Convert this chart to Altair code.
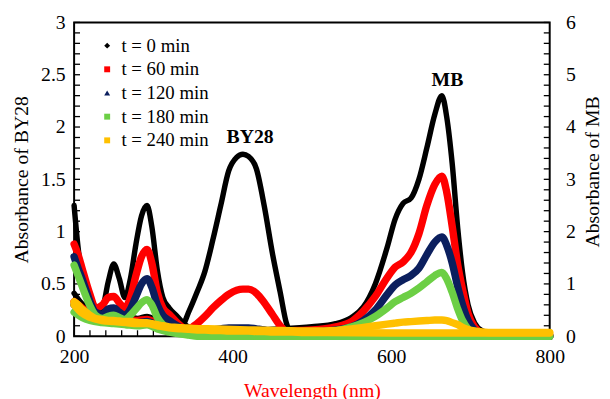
import altair as alt
import pandas as pd

labels = ["t = 0 min", "t = 60 min", "t = 120 min", "t = 180 min", "t = 240 min"]
colors = ["#000000", "#FF0000", "#0B1F5E", "#6CCF45", "#FFC000"]
shapes = ["diamond", "square", "triangle-up", "square", "square"]
widths = [5.5, 7.5, 7.5, 7.5, 7.5]

# MB spectra (right axis units)
wl_mb = [200, 205, 210, 215, 220, 227, 236, 243, 250, 257, 264, 271, 278, 285, 292, 298,
         305, 312, 320, 330, 340, 350, 380, 420, 460, 500, 530, 550, 565, 580, 595, 605,
         615, 625, 635, 645, 655, 664, 670, 677, 684, 690, 697, 705, 715, 730, 760, 800]
mb_t0 = [2.50, 1.70, 1.16, 0.84, 0.66, 0.56, 0.58, 1.04, 1.38, 1.10, 0.74, 1.10, 1.76, 2.30, 2.50, 2.10,
         1.26, 0.74, 0.54, 0.38, 0.22, 0.14, 0.12, 0.12, 0.14, 0.18, 0.24, 0.36, 0.56, 1.00, 1.70, 2.24,
         2.54, 2.64, 3.00, 3.60, 4.24, 4.60, 4.20, 3.30, 2.06, 1.22, 0.60, 0.26, 0.10, 0.04, 0.02, 0.02]
mb_t60 = [1.76, 1.56, 1.30, 1.04, 0.80, 0.54, 0.60, 0.74, 0.76, 0.64, 0.54, 0.74, 1.16, 1.52, 1.66, 1.40,
          0.84, 0.54, 0.42, 0.26, 0.14, 0.10, 0.08, 0.08, 0.10, 0.12, 0.18, 0.28, 0.48, 0.76, 1.12, 1.32,
          1.42, 1.60, 1.96, 2.50, 2.90, 3.06, 2.76, 2.10, 1.36, 0.90, 0.44, 0.18, 0.06, 0.02, 0.02, 0.02]
mb_t120 = [1.52, 1.30, 1.10, 0.88, 0.66, 0.46, 0.42, 0.52, 0.54, 0.46, 0.40, 0.52, 0.76, 1.00, 1.10, 0.94,
           0.60, 0.40, 0.30, 0.20, 0.12, 0.08, 0.06, 0.06, 0.06, 0.08, 0.12, 0.18, 0.30, 0.50, 0.80, 0.98,
           1.08, 1.16, 1.30, 1.56, 1.80, 1.90, 1.74, 1.40, 0.94, 0.60, 0.30, 0.12, 0.04, 0.02, 0.00, 0.00]
mb_t180 = [1.36, 1.16, 0.96, 0.76, 0.58, 0.40, 0.34, 0.38, 0.40, 0.36, 0.32, 0.40, 0.52, 0.64, 0.70, 0.60,
           0.36, 0.22, 0.14, 0.08, 0.04, 0.02, 0.00, 0.00, 0.02, 0.04, 0.10, 0.18, 0.26, 0.38, 0.54, 0.66,
           0.74, 0.82, 0.92, 1.04, 1.16, 1.22, 1.10, 0.84, 0.52, 0.30, 0.14, 0.06, 0.02, 0.00, 0.00, 0.00]
mb_t240 = [0.66, 0.60, 0.52, 0.46, 0.40, 0.34, 0.32, 0.30, 0.30, 0.29, 0.28, 0.28, 0.27, 0.26, 0.26, 0.24,
           0.22, 0.20, 0.18, 0.17, 0.16, 0.15, 0.14, 0.12, 0.11, 0.10, 0.11, 0.14, 0.17, 0.20, 0.23, 0.25,
           0.27, 0.28, 0.29, 0.30, 0.31, 0.31, 0.30, 0.26, 0.22, 0.17, 0.13, 0.10, 0.08, 0.07, 0.07, 0.07]

# BY28 spectra (left axis units)
wl_by = [200, 210, 220, 235, 250, 265, 280, 292, 305, 320, 335, 345, 355, 365, 375, 385,
         395, 405, 413, 420, 430, 440, 450, 460, 468, 475, 490, 520, 600, 700, 800]
by_t0 = [0.41, 0.31, 0.26, 0.26, 0.25, 0.21, 0.17, 0.19, 0.15, 0.11, 0.09, 0.24, 0.42, 0.62, 0.92, 1.25,
         1.58, 1.71, 1.74, 1.72, 1.60, 1.24, 0.80, 0.42, 0.12, 0.03, 0.02, 0.02, 0.02, 0.02, 0.02]
by_t60 = [0.33, 0.27, 0.22, 0.19, 0.18, 0.16, 0.15, 0.16, 0.12, 0.09, 0.06, 0.07, 0.12, 0.19, 0.27, 0.34,
          0.40, 0.44, 0.45, 0.45, 0.41, 0.32, 0.21, 0.10, 0.04, 0.01, 0.00, 0.00, 0.00, 0.00, 0.00]
by_t120 = [0.30, 0.24, 0.19, 0.16, 0.15, 0.14, 0.13, 0.14, 0.10, 0.07, 0.05, 0.04, 0.04, 0.05, 0.06, 0.07,
           0.08, 0.08, 0.08, 0.08, 0.07, 0.06, 0.04, 0.03, 0.02, 0.01, 0.00, 0.00, 0.00, 0.00, 0.00]
by_t180 = [0.23, 0.18, 0.15, 0.13, 0.12, 0.11, 0.10, 0.11, 0.07, 0.04, 0.02, 0.01, 0.00, 0.00, 0.00, 0.00,
           0.00, 0.00, 0.00, 0.00, 0.00, 0.00, 0.00, 0.00, 0.00, 0.00, 0.00, 0.00, 0.00, 0.00, 0.00]
by_t240 = [0.30, 0.22, 0.18, 0.15, 0.14, 0.13, 0.12, 0.12, 0.10, 0.08, 0.07, 0.065, 0.06, 0.06, 0.055, 0.055,
           0.05, 0.05, 0.05, 0.05, 0.045, 0.045, 0.04, 0.04, 0.04, 0.04, 0.035, 0.035, 0.03, 0.03, 0.03]

mb_all = [mb_t0, mb_t60, mb_t120, mb_t180, mb_t240]
by_all = [by_t0, by_t60, by_t120, by_t180, by_t240]

x_labels = [200, 400, 600, 800]
x_minor = [200 + 20 * i for i in range(31)]
left_labels = [0, 0.5, 1, 1.5, 2, 2.5, 3]
left_minor = [round(0.1 * i, 1) for i in range(31)]
right_labels = [0, 1, 2, 3, 4, 5, 6]
right_minor = [round(0.2 * i, 1) for i in range(31)]

ann_text = ["BY28", "MB"]
ann_wl = [422, 671]
ann_abs = [1.9, 2.45]

W, H = 482, 318
FONT = "Liberation Serif, Times New Roman, Times, serif"
xscale = alt.Scale(domain=[200, 800], nice=False, zero=False)
yl = alt.Scale(domain=[0, 3], nice=False)
yr = alt.Scale(domain=[0, 6], nice=False)

x_axis = alt.Axis(values=x_labels, format="d", ticks=False, tickSize=0, domain=False, grid=False,
                  labelFlush=False, labelFont=FONT, labelFontSize=20, labelColor="black", labelPadding=11,
                  title="Wavelength (nm)", titleFont=FONT, titleFontSize=20, titleFontWeight="normal",
                  titleColor="#FF0000", titleX=W / 2, titleY=55, titleBaseline="middle", titleAlign="center")

layers = []

# left axis + inward minor ticks
left_df = pd.DataFrame({"v": left_minor})
layers.append(
    alt.Chart(left_df).mark_rule(color="black", strokeWidth=1.3).encode(
        y=alt.Y("v:Q", scale=yl, axis=alt.Axis(
            orient="left", values=left_labels, format="~g", ticks=False, tickSize=0, domain=False,
            grid=False, labelFlush=False, labelFont=FONT, labelFontSize=20, labelColor="black",
            labelPadding=9,
            title="Absorbance of BY28", titleFont=FONT, titleFontSize=20, titleFontWeight="normal",
            titleColor="black", titleAngle=270, titleX=-53, titleY=H / 2, titleBaseline="middle",
            titleAlign="center")),
        x=alt.value(0), x2=alt.value(6))
)

# right axis + inward minor ticks
right_df = pd.DataFrame({"v": right_minor})
layers.append(
    alt.Chart(right_df).mark_rule(color="black", strokeWidth=1.3).encode(
        y=alt.Y("v:Q", scale=yr, axis=alt.Axis(
            orient="right", values=right_labels, format="~g", ticks=False, tickSize=0, domain=False,
            grid=False, labelFlush=False, labelFont=FONT, labelFontSize=20, labelColor="black",
            labelPadding=16,
            title="Absorbance of MB", titleFont=FONT, titleFontSize=20, titleFontWeight="normal",
            titleColor="black", titleAngle=270, titleX=43, titleY=H / 2 - 8, titleBaseline="middle",
            titleAlign="center")),
        x=alt.value(W - 6), x2=alt.value(W))
)

# bottom inward minor ticks (carry x axis)
xt_df = pd.DataFrame({"w": x_minor})
layers.append(
    alt.Chart(xt_df).mark_rule(color="black", strokeWidth=1.3).encode(
        x=alt.X("w:Q", scale=xscale, axis=x_axis),
        y=alt.value(H - 6), y2=alt.value(H))
)

# spectra
for i in range(5):
    by_df = pd.DataFrame({"wl": wl_by, "a": by_all[i]})
    mb_df = pd.DataFrame({"wl": wl_mb, "a": mb_all[i]})
    layers.append(
        alt.Chart(by_df).mark_line(color=colors[i], strokeWidth=widths[i], interpolate="monotone",
                                   strokeCap="round", strokeJoin="round").encode(
            x=alt.X("wl:Q", scale=xscale, axis=x_axis),
            y=alt.Y("a:Q", scale=yl, axis=None))
    )
    layers.append(
        alt.Chart(mb_df).mark_line(color=colors[i], strokeWidth=widths[i], interpolate="monotone",
                                   strokeCap="round", strokeJoin="round").encode(
            x=alt.X("wl:Q", scale=xscale, axis=x_axis),
            y=alt.Y("a:Q", scale=yr, axis=None))
    )

# annotations
ann_df = pd.DataFrame({"t": ann_text, "wl": ann_wl, "a": ann_abs})
layers.append(
    alt.Chart(ann_df).mark_text(font=FONT, fontSize=20, fontWeight="bold", color="black",
                                baseline="middle", align="center").encode(
        x=alt.X("wl:Q", scale=xscale, axis=x_axis),
        y=alt.Y("a:Q", scale=yl, axis=None),
        text="t:N")
)

# legend carrier
leg = alt.Legend(title=None, orient="none", legendX=24, legendY=14, labelFont=FONT,
                 labelFontSize=19, labelColor="black", symbolSize=36, symbolOpacity=1,
                 symbolStrokeWidth=0, rowPadding=4, labelOffset=5, padding=0)
leg_df = pd.DataFrame({"label": labels})
layers.append(
    alt.Chart(leg_df).mark_point(filled=True, opacity=0).encode(
        color=alt.Color("label:N", scale=alt.Scale(domain=labels, range=colors), legend=leg),
        shape=alt.Shape("label:N", scale=alt.Scale(domain=labels, range=shapes), legend=leg))
)

chart = alt.layer(*layers).resolve_scale(y="independent").properties(
    width=W, height=H,
    autosize=alt.AutoSizeParams(type="none"),
    padding={"left": 67, "top": 12, "right": 53, "bottom": 61},
).configure(
    background="white", font=FONT
).configure_view(
    stroke="black", strokeWidth=2
).configure_axis(
    labelFont=FONT, titleFont=FONT
).configure_legend(
    labelFont=FONT
).configure_text(font=FONT)

chart.save("out.html", embed_options={"renderer": "svg", "actions": False})
